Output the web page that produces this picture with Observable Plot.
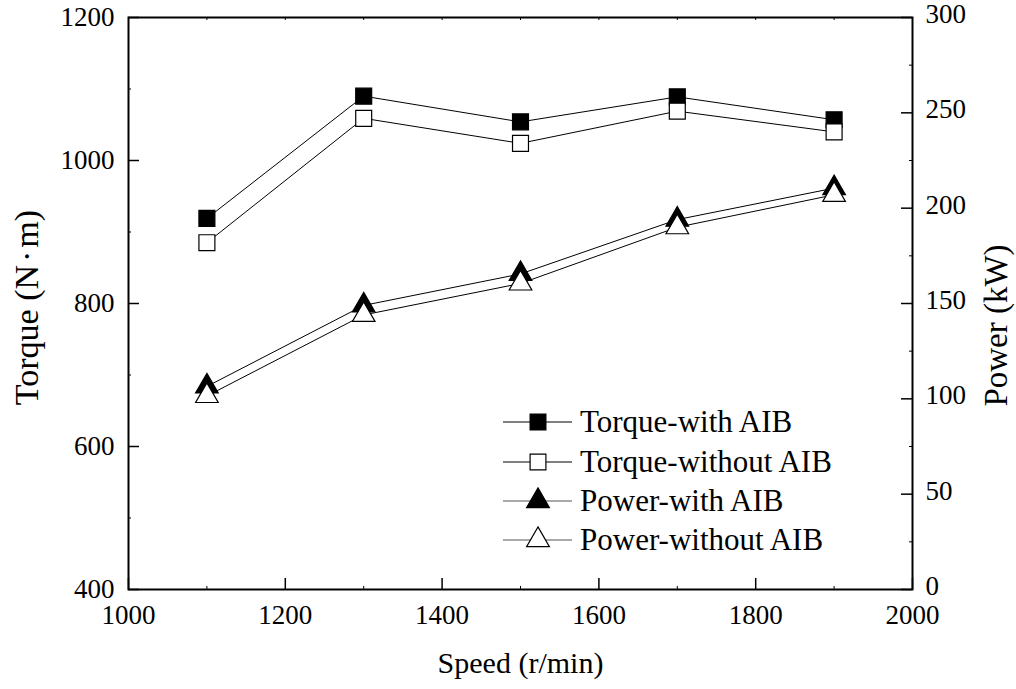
<!DOCTYPE html>
<html><head><meta charset="utf-8">
<script src="https://cdn.jsdelivr.net/npm/d3@7"></script>
<script src="https://cdn.jsdelivr.net/npm/@observablehq/plot@0.6"></script>
<style>
html,body{margin:0;padding:0;background:#fff;}
#wrap{position:relative;width:1016px;height:689px;}
#legend{position:absolute;left:500px;top:400px;}
</style></head><body><div id="wrap"></div>
<script>
// ---- data ----
const speed = [1100, 1300, 1500, 1700, 1900];
const torqueWith = [919, 1090, 1054, 1089, 1057];
const torqueWithout = [885, 1059, 1024, 1069, 1040];
const powerWith = [106.5, 149, 165.5, 194, 210.5];
const powerWithout = [101.5, 144, 160.5, 190, 207];
const seriesNames = ["Torque-with AIB", "Torque-without AIB", "Power-with AIB", "Power-without AIB"];
const seriesSymbols = ["square", "square", "triangle", "triangle"];
const seriesFills = ["black", "white", "black", "white"];

const xTicks = [1000, 1200, 1400, 1600, 1800, 2000];
const xMinor = [1100, 1300, 1500, 1700, 1900];
const torqueTicks = [400, 600, 800, 1000, 1200];
const torqueMinor = [500, 700, 900, 1100];
const powerTicks = [0, 50, 100, 150, 200, 250, 300];
const powerMinor = [25, 75, 125, 175, 225, 275];

// ---- pick an installed Times-like serif font ----
function pickFont(cands) {
  const ctx = document.createElement("canvas").getContext("2d");
  const sample = "Torque-without AIB 0123456789 (r/min)";
  for (const c of cands) {
    let differs = false;
    for (const base of ["monospace", "sans-serif"]) {
      ctx.font = `30px ${base}`;
      const w0 = ctx.measureText(sample).width;
      ctx.font = `30px "${c}", ${base}`;
      const w1 = ctx.measureText(sample).width;
      if (Math.abs(w1 - w0) > 0.5) differs = true;
    }
    if (differs) return `"${c}"`;
  }
  return "serif";
}
const fontName = pickFont(["Liberation Serif", "Tinos", "Times New Roman", "Times", "Nimbus Roman", "FreeSerif", "DejaVu Serif", "Noto Serif"]);
const font = `${fontName}, serif`;

// ---- layout ----
const W = 1016, H = 689, mL = 128, mR = 104, mT = 17, mB = 100;
const pw = W - mL - mR, ph = H - mT - mB;

// power (0..300) mapped onto torque domain (400..1200)
const p2t = p => 400 + p * 800 / 300;
const t2p = t => Math.round((t - 400) * 300 / 800);

const seriesValues = [torqueWith, torqueWithout, powerWith.map(p2t), powerWithout.map(p2t)];
const rows = [];
seriesNames.forEach((name, i) => {
  speed.forEach((s, j) => rows.push({series: name, idx: i, speed: s, y: seriesValues[i][j]}));
});

const marks = [];
marks.push(Plot.line(rows, {x: "speed", y: "y", z: "series", stroke: "black", strokeWidth: 1}));
seriesNames.forEach((name, i) => {
  const r = seriesSymbols[i] === "square" ? 9 : 8.4;
  marks.push(Plot.dot(rows.filter(d => d.idx === i), {
    x: "speed", y: "y", symbol: seriesSymbols[i], r,
    fill: seriesFills[i], stroke: "black", strokeWidth: 1.2
  }));
});

// inward ticks
marks.push(Plot.tickX(xTicks, {x: d => d, insetTop: ph - 11, strokeWidth: 1.5}));
marks.push(Plot.tickX(xMinor, {x: d => d, insetTop: ph - 3, strokeWidth: 1}));
marks.push(Plot.tickX([...xTicks, ...xMinor], {x: d => d, insetBottom: ph - 3, strokeWidth: 1}));
marks.push(Plot.tickY(torqueTicks, {y: d => d, insetRight: pw - 11, strokeWidth: 1.5}));
marks.push(Plot.tickY(torqueMinor, {y: d => d, insetRight: pw - 3, strokeWidth: 1}));
marks.push(Plot.tickY(powerTicks.map(p2t), {y: d => d, insetLeft: pw - 11, strokeWidth: 1.5}));
marks.push(Plot.tickY(powerMinor.map(p2t), {y: d => d, insetLeft: pw - 3, strokeWidth: 1}));

// axes labels
marks.push(Plot.axisX({ticks: xTicks, tickSize: 0, tickPadding: 15, tickFormat: d => String(d), label: null, fontSize: 27}));
marks.push(Plot.axisY({anchor: "left", ticks: torqueTicks, tickSize: 0, tickPadding: 14, tickFormat: d => String(d), label: null, fontSize: 27}));
marks.push(Plot.axisY({anchor: "right", ticks: powerTicks.map(p2t), tickSize: 0, tickPadding: 13, dy: -3, tickFormat: d => String(t2p(d)), label: null, fontSize: 27}));

marks.push(Plot.frame({stroke: "black", strokeWidth: 2}));

// axis titles
const torqueTitle = "Torque (N·m)";
const powerTitle = "Power (kW)";
const speedTitle = "Speed (r/min)";
marks.push(Plot.text([torqueTitle], {text: d => d, frameAnchor: "left", dx: -101, dy: 4, rotate: -90, textAnchor: "middle", lineAnchor: "middle", fontSize: 34}));
marks.push(Plot.text([powerTitle], {text: d => d, frameAnchor: "right", dx: 84, dy: 22, rotate: -90, textAnchor: "middle", lineAnchor: "middle", fontSize: 33}));
marks.push(Plot.text([speedTitle], {text: d => d, frameAnchor: "bottom", dy: 74, textAnchor: "middle", lineAnchor: "middle", fontSize: 30}));

const chart = Plot.plot({
  width: W, height: H,
  marginLeft: mL, marginRight: mR, marginTop: mT, marginBottom: mB,
  x: {domain: [1000, 2000]},
  y: {domain: [400, 1200]},
  style: {fontFamily: font, fontSize: "27px", color: "black", background: "white"},
  marks
});
chart.style.fontFamily = font;
chart.querySelectorAll("text").forEach(t => t.style.fontFamily = font);
// slightly widen the spacing around the middle dot, as in the reference
chart.querySelectorAll("text").forEach(t => {
  if (t.textContent === torqueTitle) {
    const [a, b] = torqueTitle.split("·");
    t.textContent = "";
    const ns = "http://www.w3.org/2000/svg";
    const s1 = document.createElementNS(ns, "tspan"); s1.textContent = a;
    const s2 = document.createElementNS(ns, "tspan"); s2.textContent = "·"; s2.setAttribute("dx", 3);
    const s3 = document.createElementNS(ns, "tspan"); s3.textContent = b; s3.setAttribute("dx", 3);
    t.append(s1, s2, s3);
  }
});
const wrap = document.getElementById("wrap");
wrap.style.fontFamily = font;
wrap.appendChild(chart);

// legend
const leg = d3.select(wrap).append("svg").attr("id", "legend")
  .attr("width", 380).attr("height", 170)
  .style("font-family", font);
const rowY = [22, 62, 101, 140];
seriesNames.forEach((name, i) => {
  const g = leg.append("g").attr("transform", `translate(0,${rowY[i]})`);
  g.append("line").attr("x1", 3).attr("x2", 72).attr("y1", 0).attr("y2", 0)
    .attr("stroke", i < 2 ? "black" : "#555").attr("stroke-width", 1.2);
  const sym = seriesSymbols[i] === "square" ? d3.symbolSquare : d3.symbolTriangle;
  const size = seriesSymbols[i] === "square" ? 250 : 225;
  g.append("path").attr("d", d3.symbol(sym, size)()).attr("transform", "translate(38,0)")
    .attr("fill", seriesFills[i]).attr("stroke", "black").attr("stroke-width", 1.2);
  g.append("text").attr("x", 80).attr("y", 10).attr("font-size", 31).attr("fill", "black")
    .style("font-family", font).text(name);
});
</script></body></html>
